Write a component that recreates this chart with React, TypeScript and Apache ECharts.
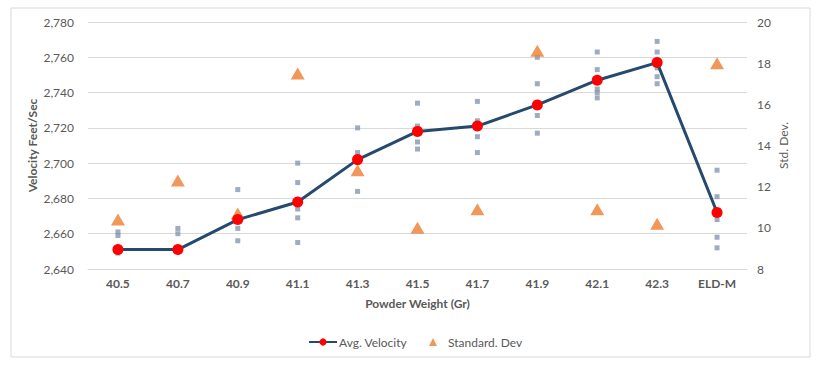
import React, { useEffect, useRef } from "react";
import * as echarts from "echarts";

const categories = ["40.5", "40.7", "40.9", "41.1", "41.3", "41.5", "41.7", "41.9", "42.1", "42.3", "ELD-M"];
const avgVelocity = [2651, 2651, 2668, 2678, 2702, 2718, 2721, 2733, 2747, 2757, 2672];
const stdDev = [10.4, 12.3, 10.7, 17.5, 12.8, 10.0, 10.9, 18.6, 10.9, 10.2, 18.0];
const shots: number[][] = [
  [2661, 2659, 2649],
  [2663, 2660, 2651],
  [2685, 2663, 2656],
  [2700, 2689, 2674, 2669, 2655],
  [2720, 2706, 2701, 2684],
  [2734, 2721, 2717, 2712, 2708],
  [2735, 2724, 2715, 2706],
  [2760, 2745, 2727, 2717],
  [2763, 2753, 2742, 2740, 2737],
  [2769, 2763, 2754, 2749, 2745],
  [2696, 2681, 2668, 2658, 2652],
];

const FONT = "Lato, 'Open Sans', sans-serif";
const GRAY = "#595959";

export default function App() {
  const ref = useRef<HTMLDivElement>(null);
  useEffect(() => {
    document.body.style.margin = "0";
    if (!ref.current) return;
    const chart = echarts.init(ref.current, undefined, { renderer: "svg" });
    const shotData: [number, number][] = [];
    shots.forEach((arr, i) => arr.forEach((v) => shotData.push([i, v])));
    chart.setOption({
      animation: false,
      backgroundColor: "#ffffff",
      textStyle: { fontFamily: FONT },
      graphic: [
        {
          type: "rect",
          shape: { x: 11, y: 8, width: 799, height: 349 },
          style: { fill: "none", stroke: "#D9D9D9", lineWidth: 1 },
          silent: true,
        },
      ],
      grid: { left: 88, right: 75, top: 22, bottom: 98 },
      legend: [
        {
          data: ["Avg. Velocity"],
          left: 303,
          top: 331,
          itemWidth: 28,
          itemHeight: 9,
          textStyle: { color: GRAY, fontSize: 12, fontFamily: FONT, padding: [0, 0, 0, -3] },
        },
        {
          data: ["Standard. Dev"],
          left: 424,
          top: 331,
          itemWidth: 8,
          itemHeight: 8,
          textStyle: { color: GRAY, fontSize: 12, fontFamily: FONT, padding: [0, 0, 0, 6] },
        },
      ],
      xAxis: {
        type: "category",
        data: categories,
        name: "Powder Weight (Gr)",
        nameLocation: "middle",
        nameGap: 28,
        nameTextStyle: { color: GRAY, fontSize: 12, fontWeight: "bold", fontFamily: FONT },
        axisLine: { lineStyle: { color: "#D9D9D9" } },
        axisTick: { show: false },
        axisLabel: { color: GRAY, fontSize: 12, fontWeight: "bold", margin: 8, fontFamily: FONT },
      },
      yAxis: [
        {
          type: "value",
          min: 2640,
          max: 2780,
          interval: 20,
          name: "Velocity Feet/Sec",
          nameLocation: "middle",
          nameRotate: 90,
          nameGap: 50,
          nameMoveOverlap: false,
          nameTextStyle: { color: GRAY, fontSize: 12, fontWeight: "bold", fontFamily: FONT },
          axisLine: { show: false },
          axisTick: { show: false },
          axisLabel: {
            color: GRAY,
            fontSize: 12,
            margin: 14,
            fontFamily: FONT,
            formatter: (v: number) => v.toLocaleString("en-US"),
          },
          splitLine: { lineStyle: { color: "#D9D9D9" } },
        },
        {
          type: "value",
          min: 8,
          max: 20,
          interval: 2,
          name: "Std. Dev.",
          nameLocation: "middle",
          nameRotate: 90,
          nameGap: 30,
          nameMoveOverlap: false,
          nameTextStyle: { color: GRAY, fontSize: 12, fontFamily: FONT },
          axisLine: { show: false },
          axisTick: { show: false },
          axisLabel: { color: GRAY, fontSize: 12, margin: 10, fontFamily: FONT },
          splitLine: { show: false },
        },
      ],
      series: [
        {
          name: "Shots",
          type: "scatter",
          data: shotData,
          symbol: "rect",
          symbolSize: 5,
          itemStyle: { color: "#8497B0" },
          z: 2,
        },
        {
          name: "Standard. Dev",
          type: "scatter",
          yAxisIndex: 1,
          data: stdDev,
          symbol: "triangle",
          symbolSize: [14, 12],
          itemStyle: { color: "#ED7D31" },
          z: 3,
        },
        {
          name: "Avg. Velocity",
          type: "line",
          data: avgVelocity,
          symbol: "circle",
          symbolSize: 11,
          lineStyle: { color: "#264A6E", width: 3 },
          itemStyle: { color: "#FF0000", borderWidth: 0 },
          z: 4,
        },
      ],
    });
    return () => chart.dispose();
  }, []);
  return <div ref={ref} style={{ width: 822, height: 367 }} />;
}
